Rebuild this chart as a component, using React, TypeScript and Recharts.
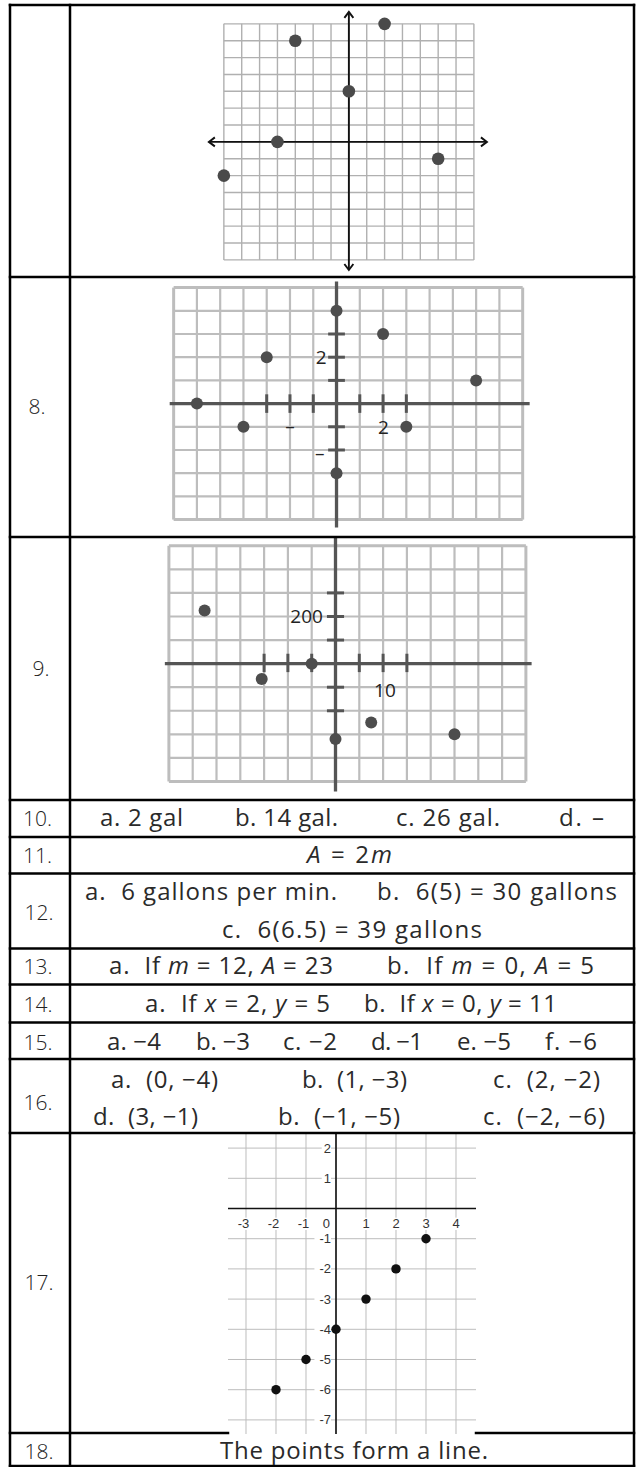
import React from 'react';
import { ScatterChart, Scatter, XAxis, YAxis, ReferenceLine, ReferenceDot } from 'recharts';

// top plot (row without a number)
const TOP_X = [-7, -4, -3, 0, 2, 5];
const TOP_Y = [-2, 0, 6, 3, 7, -1];

// question 8
const Q8_X = [-6, -4, -3, 0, 0, 2, 3, 6];
const Q8_Y = [0, -1, 2, 4, -3, 3, -1, 1];
const Q8_X_TICKS = [-3, -2, -1, 1, 2, 3];
const Q8_Y_TICKS = [-2, -1, 1, 2, 3];

// question 9 (grid units, points sit between lines)
const Q9_X = [-5.5, -3.1, -1, 0, 1.5, 5];
const Q9_Y = [2.25, -0.65, 0, -3.2, -2.5, -3];
const Q9_X_TICKS = [-3, -2, -1, 1, 2, 3];
const Q9_Y_TICKS = [-2, -1, 1, 2, 3];

// question 17
const Q17_X = [-2, -1, 0, 1, 2, 3];
const Q17_Y = [-6, -5, -4, -3, -2, -1];
const Q17_X_LABELS = [-3, -2, -1, 1, 2, 3, 4];
const Q17_Y_LABELS = [2, 1, -1, -2, -3, -4, -5, -6, -7];

// table layout
const ROW_LINES = [5, 277, 537, 800, 837, 873.5, 948.5, 984.5, 1022.5, 1059, 1133, 1433, 1466];
const ROW_NUMBERS: [string, number, number][] = [
  ['8.', 37, 414], ['9.', 41, 676], ['10.', 37.5, 826], ['11.', 37.5, 863], ['12.', 39, 920],
  ['13.', 38, 974], ['14.', 38, 1012], ['15.', 38, 1050], ['16.', 38, 1110], ['17.', 39, 1290], ['18.', 39, 1459],
];
const ANSWERS: [string, number, number, number][] = [
  ['a. 2 gal', 100, 183, 826], ['b. 14 gal.', 235, 338, 826], ['c. 26 gal.', 396, 500, 826], ['d. –', 559, 604, 826],
  ['*A* = 2*m*', 307, 392, 863],
  ['a.  6 gallons per min.', 85, 337, 900], ['b.  6(5) = 30 gallons', 377, 617, 900],
  ['c.  6(6.5) = 39 gallons', 222, 482, 938],
  ['a.  If *m* = 12, *A* = 23', 109, 333, 974], ['b.  If *m* = 0, *A* = 5', 387, 594, 974],
  ['a.  If *x* = 2, *y* = 5', 145, 330, 1012], ['b.  If *x* = 0, *y* = 11', 364, 557, 1012],
  ['a. −4', 107, 161, 1050], ['b. −3', 196, 250, 1050], ['c. −2', 283, 337, 1050],
  ['d. −1', 371, 423, 1050], ['e. −5', 457, 511, 1050], ['f. −6', 545, 597, 1050],
  ['a.  (0, −4)', 111, 218, 1088], ['b.  (1, −3)', 302, 407, 1088], ['c.  (2, −2)', 493, 600, 1088],
  ['d.  (3, −1)', 93, 198, 1125], ['b.  (−1, −5)', 278, 400, 1125], ['c.  (−2, −6)', 483, 605, 1125],
  ['The points form a line.', 220, 488, 1459],
];

const TEXT_FONT = '"Open Sans", "Noto Sans", sans-serif';
const range = (a: number, b: number) => Array.from({ length: b - a + 1 }, (_, i) => a + i);
const points = (xs: number[], ys: number[]) => xs.map((x, i) => ({ x, y: ys[i] }));

function seg(key: string, x1: number, y1: number, x2: number, y2: number, stroke: string, w: number, shape?: any) {
  const extra = shape ? { shape } : {};
  return (
    <ReferenceLine key={key} segment={[{ x: x1, y: y1 }, { x: x2, y: y2 }]} stroke={stroke} strokeWidth={w} ifOverflow="visible" {...extra} />
  );
}

function grid(xs: number[], ys: number[], xSpan: number[], ySpan: number[], stroke: string, w: number, edgeW = w) {
  return [
    ...xs.map((x, i) => seg(`gv${x}`, x, ySpan[0], x, ySpan[1], stroke, i === 0 || i === xs.length - 1 ? edgeW : w)),
    ...ys.map((y, i) => seg(`gh${y}`, xSpan[0], y, xSpan[1], y, stroke, i === 0 || i === ys.length - 1 ? edgeW : w)),
  ];
}

type LabelOpts = { dx: number; dy: number; anchor: 'start' | 'middle' | 'end'; size: number; family: string; fill: string; bg?: boolean };

function label(key: string, x: number, y: number, text: string, o: LabelOpts) {
  return (
    <ReferenceDot
      key={key}
      x={x}
      y={y}
      r={0}
      ifOverflow="visible"
      shape={(p: any) => {
        const w = text.length * o.size * 0.56 + 2;
        const tx = p.cx + o.dx;
        const rx = o.anchor === 'end' ? tx - w : o.anchor === 'middle' ? tx - w / 2 : tx;
        return (
          <g>
            {o.bg && <rect x={rx} y={p.cy + o.dy - o.size * 0.8} width={w} height={o.size * 0.95} fill="#fff" />}
            <text x={tx} y={p.cy + o.dy} textAnchor={o.anchor} fontSize={o.size} fontFamily={o.family} fill={o.fill}>
              {text}
            </text>
          </g>
        );
      }}
    />
  );
}

const arrowAxis = (props: any) => {
  const { x1, y1, x2, y2 } = props;
  const len = Math.hypot(x2 - x1, y2 - y1);
  const ux = (x2 - x1) / len;
  const uy = (y2 - y1) / len;
  const a = 6;
  const b = 4.5;
  const head = (px: number, py: number, sx: number, sy: number) =>
    `M${px + sx * a - sy * b},${py + sy * a + sx * b} L${px},${py} L${px + sx * a + sy * b},${py + sy * a - sx * b}`;
  return (
    <g>
      <line x1={x1} y1={y1} x2={x2} y2={y2} stroke="#111" strokeWidth={1.9} />
      <path d={head(x1, y1, ux, uy) + ' ' + head(x2, y2, -ux, -uy)} fill="none" stroke="#111" strokeWidth={1.9} />
    </g>
  );
};

type PlaneProps = {
  ox: number; oy: number; ux: number; uy: number;
  xd: [number, number]; yd: [number, number];
  bg?: string; children: React.ReactNode;
};

function Plane({ ox, oy, ux, uy, xd, yd, bg, children }: PlaneProps) {
  const width = (xd[1] - xd[0]) * ux;
  const height = (yd[1] - yd[0]) * uy;
  return (
    <div style={{ position: 'absolute', left: ox + xd[0] * ux, top: oy - yd[1] * uy, width, height, background: bg }}>
      <ScatterChart width={width} height={height} margin={{ top: 0, right: 0, bottom: 0, left: 0 }}>
        <XAxis type="number" dataKey="x" domain={xd} hide allowDataOverflow />
        <YAxis type="number" dataKey="y" domain={yd} hide allowDataOverflow />
        {children}
      </ScatterChart>
    </div>
  );
}

const dot = (r: number, fill: string) => (p: any) => <circle cx={p.cx} cy={p.cy} r={r} fill={fill} />;

const rich = (t: string) =>
  t.split('*').map((s, i) => (i % 2 ? <tspan key={i} fontStyle="italic">{s}</tspan> : <tspan key={i}>{s}</tspan>));

const boldLabel = { anchor: 'middle' as const, size: 19, family: TEXT_FONT, fill: '#222' };
const geoLabel = { size: 13, family: '"Liberation Sans", Arial, sans-serif', fill: '#333', bg: true };

export default function App() {
  return (
    <div style={{ position: 'absolute', left: 0, top: 0, width: 637, height: 1467, background: '#fff', overflow: 'hidden' }}>
      {/* top plot */}
      <Plane ox={349} oy={142} ux={17.86} uy={16.86} xd={[-8, 8]} yd={[-8, 8]}>
        {grid(range(-7, 7), range(-7, 7), [-7, 7], [-7, 7], '#b0b0b0', 1.4)}
        {seg('ax', -7.84, 0, 7.73, 0, '#111', 1.9, arrowAxis)}
        {seg('ay', 0, 7.71, 0, -7.6, '#111', 1.9, arrowAxis)}
        <Scatter data={points(TOP_X, TOP_Y)} isAnimationActive={false} shape={dot(6.3, '#4a4a4a')} />
      </Plane>

      {/* question 8 */}
      <Plane ox={336.9} oy={404} ux={23.27} uy={23.2} xd={[-7.5, 8.5]} yd={[-5.5, 5.5]}>
        {grid(range(-7, 8), range(-5, 5), [-7, 8], [-5, 5], '#bdbdbd', 2.2, 3)}
        {seg('ax', -7.17, 0, 8.3, 0, '#555', 3.3)}
        {seg('ay', 0, 5.26, 0, -5.34, '#555', 3.3)}
        {Q8_X_TICKS.map((t) => seg(`tx${t}`, t, 0.4, t, -0.4, '#555', 3))}
        {Q8_Y_TICKS.map((t) => seg(`ty${t}`, -0.36, t, 0.36, t, '#555', 3))}
        {label('l1', 0, 2, '2', { ...boldLabel, anchor: 'end', dx: -10, dy: 7 })}
        {label('l2', 2, 0, '2', { ...boldLabel, dx: 0.5, dy: 30 })}
        {label('l3', -2, 0, '–', { ...boldLabel, dx: 0, dy: 29 })}
        {label('l4', 0, -2, '–', { ...boldLabel, anchor: 'end', dx: -12, dy: 10.5 })}
        <Scatter data={points(Q8_X, Q8_Y)} isAnimationActive={false} shape={dot(6, '#4d4d4d')} />
      </Plane>

      {/* question 9 */}
      <Plane ox={335.6} oy={663.9} ux={23.8} uy={23.57} xd={[-7.5, 8.5]} yd={[-5.5, 5.5]}>
        {grid(range(-7, 8), range(-5, 5), [-7, 8], [-5, 5], '#bdbdbd', 2.2, 3)}
        {seg('ax', -7.17, 0, 8.24, 0, '#555', 3.3)}
        {seg('ay', 0, 5.38, 0, -5.42, '#555', 3.3)}
        {Q9_X_TICKS.map((t) => seg(`tx${t}`, t, 0.42, t, -0.36, '#555', 3))}
        {Q9_Y_TICKS.map((t) => seg(`ty${t}`, -0.36, t, 0.36, t, '#555', 3))}
        {label('l1', 0, 2, '200', { ...boldLabel, anchor: 'end', dx: -12.6, dy: 7 })}
        {label('l2', 2, 0, '10', { ...boldLabel, dx: 1.8, dy: 33 })}
        <Scatter data={points(Q9_X, Q9_Y)} isAnimationActive={false} shape={dot(6, '#4d4d4d')} />
      </Plane>

      {/* question 17 */}
      <Plane ox={336} oy={1208.3} ux={30} uy={30.2} xd={[-3.6, 4.67]} yd={[-7.47, 2.5]} bg="#fff">
        {grid(range(-3, 4), range(-7, 2), [-3.6, 4.67], [-7.47, 2.5], '#bdbdbd', 1)}
        {seg('ax', -3.6, 0, 4.67, 0, '#111', 1.6)}
        {seg('ay', 0, 2.5, 0, -7.47, '#111', 1.6)}
        {Q17_X_LABELS.map((t) => label(`lx${t}`, t, 0, String(t), { ...geoLabel, anchor: 'middle', dx: t < 0 ? -2.5 : 0, dy: 19.5 }))}
        {Q17_Y_LABELS.map((t) => label(`ly${t}`, 0, t, String(t), { ...geoLabel, anchor: 'end', dx: -5, dy: 4.5 }))}
        {label('l0', 0, 0, '0', { ...geoLabel, anchor: 'end', dx: -6, dy: 19.5 })}
        <Scatter data={points(Q17_X, Q17_Y)} isAnimationActive={false} shape={dot(4.7, '#111')} />
      </Plane>

      <svg width={637} height={1467} style={{ position: 'absolute', left: 0, top: 0, pointerEvents: 'none' }}>
        {ROW_LINES.map((y) =>
          y === 1433 ? (
            <g key={y}>
              <line x1={10} y1={y} x2={228} y2={y} stroke="#000" strokeWidth={2.5} strokeLinecap="square" />
              <line x1={476} y1={y} x2={634} y2={y} stroke="#000" strokeWidth={2.5} strokeLinecap="square" />
            </g>
          ) : (
            <line key={y} x1={10} y1={y} x2={634} y2={y} stroke="#000" strokeWidth={2.5} strokeLinecap="square" />
          )
        )}
        {[10, 70, 634].map((x) => (
          <line key={x} x1={x} y1={5} x2={x} y2={1466} stroke="#000" strokeWidth={2.5} strokeLinecap="square" />
        ))}
        {ROW_NUMBERS.map(([t, x, y]) => (
          <text key={t} x={x} y={y} textAnchor="middle" fontSize={21} fontWeight={300} fontFamily={TEXT_FONT} fill="#222">
            {t}
          </text>
        ))}
        {ANSWERS.map(([t, x0, x1, y], i) => (
          <text
            key={i}
            x={x0}
            y={y}
            textLength={x1 - x0}
            lengthAdjust="spacing"
            fontSize={24}
            fontWeight={400}
            fontFamily={TEXT_FONT}
            fill="#2a2a2a"
            style={{ whiteSpace: 'pre' }}
          >
            {rich(t)}
          </text>
        ))}
      </svg>
    </div>
  );
}
